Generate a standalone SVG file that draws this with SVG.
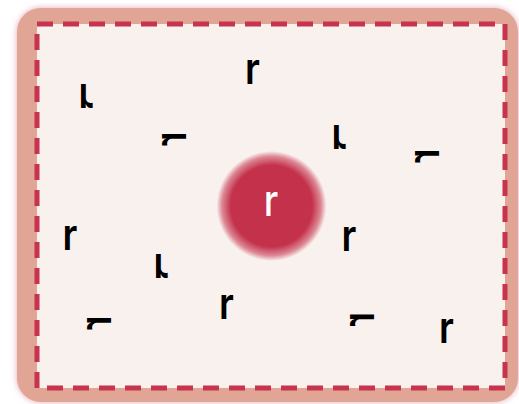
<svg xmlns="http://www.w3.org/2000/svg" width="519" height="404" viewBox="0 0 519 404">
  <defs>
    <filter id="glow" x="-10%" y="-10%" width="120%" height="120%">
      <feDropShadow dx="0" dy="0" stdDeviation="3" flood-color="#d9809a" flood-opacity="0.7"/>
    </filter>
    <radialGradient id="ball" cx="0.5" cy="0.5" r="0.5">
      <stop offset="0" stop-color="#C4314B"/>
      <stop offset="0.74" stop-color="#C4314B"/>
      <stop offset="0.9" stop-color="#C4314B" stop-opacity="0.55"/>
      <stop offset="1" stop-color="#C4314B" stop-opacity="0"/>
    </radialGradient>
    <style>
      .lt { font-family: Inter, "Liberation Sans", sans-serif; font-weight: 600; font-size: 44px; fill: #000; text-anchor: middle; }
      .ct { font-family: Inter, "Liberation Sans", sans-serif; font-weight: 500; font-size: 44px; fill: #fff; text-anchor: middle; }
    </style>
  </defs>
  <g id="frame">
    <rect x="17" y="8" width="501" height="394" rx="24" ry="24" fill="#E0A594" filter="url(#glow)"/>
    <rect x="37" y="24" width="468" height="364" fill="#F9F1EE"/>
    <rect x="37" y="24" width="468" height="364" fill="none" stroke="#C8334E" stroke-width="5" stroke-dasharray="16 10"/>
  </g>
  <g id="center">
    <circle cx="271.5" cy="206" r="55" fill="url(#ball)"/>
    <text class="ct" transform="translate(271,215.5) scale(0.85,1)">r</text>
  </g>
  <g id="letters">
    <g id="l1" transform="translate(252.5,72)"><text class="lt" transform="scale(0.85,1)" y="12">r</text></g>
    <g id="l2" transform="translate(86,96.5) scale(1,-1)"><text class="lt" transform="scale(0.85,1)" y="12">r</text></g>
    <g id="l3" transform="translate(174,139) matrix(0,1,1,0,0,0)"><text class="lt" transform="scale(0.85,1)" y="12">r</text></g>
    <g id="l4" transform="translate(339,137) scale(1,-1)"><text class="lt" transform="scale(0.85,1)" y="12">r</text></g>
    <g id="l5" transform="translate(426.5,156) matrix(0,1,1,0,0,0)"><text class="lt" transform="scale(0.85,1)" y="12">r</text></g>
    <g id="l6" transform="translate(70,237.5)"><text class="lt" transform="scale(0.85,1)" y="12">r</text></g>
    <g id="l7" transform="translate(161,266.5) scale(1,-1)"><text class="lt" transform="scale(0.85,1)" y="12">r</text></g>
    <g id="l8" transform="translate(226.5,306.5)"><text class="lt" transform="scale(0.85,1)" y="12">r</text></g>
    <g id="l9" transform="translate(99,323) matrix(0,1,1,0,0,0)"><text class="lt" transform="scale(0.85,1)" y="12">r</text></g>
    <g id="l10" transform="translate(349,238.5)"><text class="lt" transform="scale(0.85,1)" y="12">r</text></g>
    <g id="l11" transform="translate(361.5,319.5) matrix(0,1,1,0,0,0)"><text class="lt" transform="scale(0.85,1)" y="12">r</text></g>
    <g id="l12" transform="translate(446.5,330.5)"><text class="lt" transform="scale(0.85,1)" y="12">r</text></g>
  </g>
</svg>
